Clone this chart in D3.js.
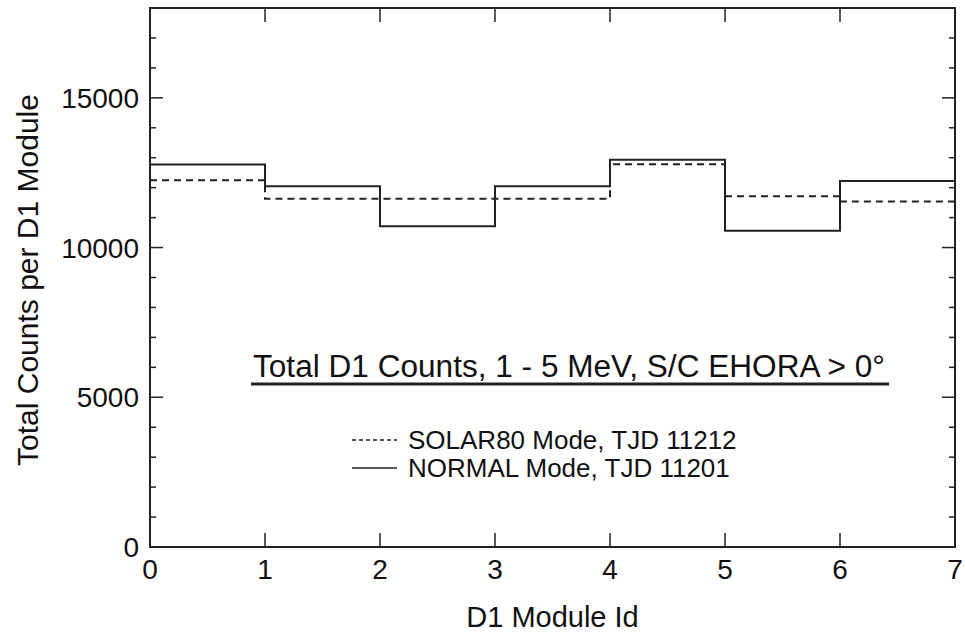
<!DOCTYPE html>
<html><head><meta charset="utf-8">
<script src="https://cdn.jsdelivr.net/npm/d3@7"></script>
<style>body{margin:0;background:#fff}svg{display:block}text{font-family:"Liberation Sans",Arial,sans-serif;fill:#111}</style>
</head><body>
<svg id="c" width="965" height="635"></svg>
<script>
const modules = [0,1,2,3,4,5,6];
const solar80 = [12250,11630,11630,11630,12780,11710,11540];
const normal = [12770,12050,10710,12050,12930,10560,12220];
const xTicks = [0,1,2,3,4,5,6,7];
const yTicks = [0,5000,10000,15000];
const yMinor = d3.range(0,18001,1000);
const titleText = "Total D1 Counts, 1 - 5 MeV, S/C EHORA > 0°";
const legendLabels = ["SOLAR80 Mode, TJD 11212","NORMAL Mode, TJD 11201"];

const svg = d3.select("#c");
const L=150,R=955,T=8,B=547;
const x = d3.scaleLinear().domain([0,7]).range([L,R]);
const y = d3.scaleLinear().domain([0,18000]).range([B,T]);
const col="#222";

// ticks
const g = svg.append("g").attr("stroke",col).attr("stroke-width",1.5);
xTicks.forEach(t=>{
  g.append("line").attr("x1",x(t)).attr("x2",x(t)).attr("y1",B).attr("y2",B-14);
  g.append("line").attr("x1",x(t)).attr("x2",x(t)).attr("y1",T).attr("y2",T+14);
});
yMinor.forEach(v=>{
  const len = (v%5000===0)?13:6;
  g.append("line").attr("x1",L).attr("x2",L+len).attr("y1",y(v)).attr("y2",y(v));
  g.append("line").attr("x1",R).attr("x2",R-len).attr("y1",y(v)).attr("y2",y(v));
});
svg.append("rect").attr("x",L).attr("y",T).attr("width",R-L).attr("height",B-T)
  .attr("fill","none").attr("stroke",col).attr("stroke-width",2);

// tick labels
xTicks.forEach(t=>svg.append("text").attr("x",x(t)).attr("y",579).attr("text-anchor","middle")
  .attr("font-size",28).text(t));
yTicks.forEach(v=>svg.append("text").attr("x",139).attr("y",y(v)+10).attr("text-anchor","end")
  .attr("font-size",28).text(v));

// axis titles
svg.append("text").attr("x",x(3.5)).attr("y",627).attr("text-anchor","middle").attr("font-size",29).text("D1 Module Id");
svg.append("text").attr("transform",`translate(38,280) rotate(-90)`).attr("text-anchor","middle")
  .attr("font-size",30).text("Total Counts per D1 Module");

// step lines
function stepData(vals){ const d = vals.map((v,i)=>[modules[i],v]); d.push([7,vals[vals.length-1]]); return d; }
const line = d3.line().x(d=>x(d[0])).y(d=>y(d[1])).curve(d3.curveStepAfter);
svg.append("path").attr("d",line(stepData(solar80))).attr("fill","none").attr("stroke",col)
  .attr("stroke-width",2).attr("stroke-dasharray","7,5");
svg.append("path").attr("d",line(stepData(normal))).attr("fill","none").attr("stroke",col)
  .attr("stroke-width",2);

// title with underline
svg.append("text").attr("x",253).attr("y",377).attr("font-size",31)
  .attr("textLength",632).attr("lengthAdjust","spacingAndGlyphs").text(titleText);
svg.append("line").attr("x1",251).attr("x2",889).attr("y1",384).attr("y2",384).attr("stroke",col).attr("stroke-width",3);

// legend
const ly=[440,468];
svg.append("line").attr("x1",352).attr("x2",397).attr("y1",ly[0]).attr("y2",ly[0]).attr("stroke",col).attr("stroke-width",1.5).attr("stroke-dasharray","4,3");
svg.append("line").attr("x1",352).attr("x2",397).attr("y1",ly[1]).attr("y2",ly[1]).attr("stroke",col).attr("stroke-width",1.5);
legendLabels.forEach((t,i)=>svg.append("text").attr("x",408).attr("y",ly[i]+9).attr("font-size",26).text(t));
</script>
</body></html>
